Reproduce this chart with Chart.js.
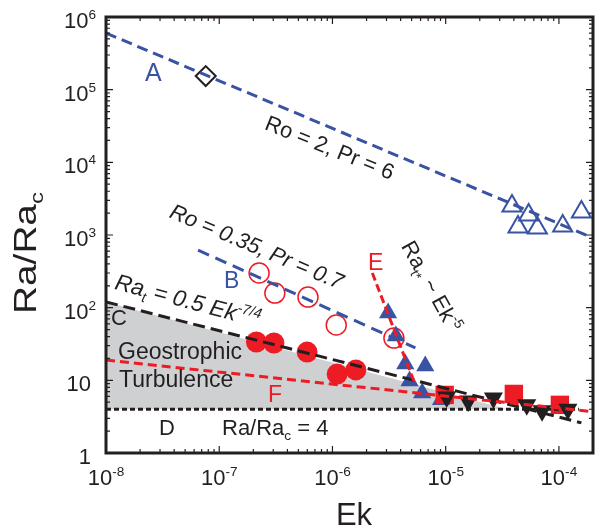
<!DOCTYPE html>
<html>
<head>
<meta charset="utf-8">
<script src="https://cdn.jsdelivr.net/npm/chart.js@4.4.1/dist/chart.umd.min.js"></script>
<style>
  html, body { margin: 0; padding: 0; background: #fff; }
  #wrap { width: 606px; height: 527px; }
</style>
</head>
<body>
<div id="wrap"><canvas id="chart"></canvas></div>
<script>
// axis ticks
const xTicks = [1e-8, 1e-7, 1e-6, 1e-5, 1e-4];
const xTickLabels = [["10", "-8"], ["10", "-7"], ["10", "-6"], ["10", "-5"], ["10", "-4"]];
const yTicks = [1, 10, 100, 1e3, 1e4, 1e5, 1e6];
const yTickLabels = [["1", ""], ["10", ""], ["10", "2"], ["10", "3"], ["10", "4"], ["10", "5"], ["10", "6"]];

// symbols (Ek, Ra/Ra_c)
const diamondEk = [7.6e-8];
const diamondRa = [1.54e5];
const openTriEk = [3.85e-5, 5.4e-5, 4.35e-5, 6.45e-5, 1.08e-4, 1.58e-4];
const openTriRa = [2500, 1880, 1290, 1250, 1330, 2070];
const openCircEk = [2.25e-7, 3.1e-7, 6.08e-7, 1.08e-6, 3.49e-6];
const openCircRa = [300, 159, 140, 57.7, 38.2];
const fullCircEk = [2.13e-7, 3.04e-7, 5.97e-7, 1.1e-6, 1.61e-6];
const fullCircRa = [33.7, 32.6, 24.5, 12.2, 13.9];
const blueTriEk = [3.1e-6, 3.63e-6, 4.4e-6, 6.6e-6, 4.8e-6, 6.2e-6, 9.1e-6];
const blueTriRa = [84.5, 40.7, 16.8, 15.7, 9.8, 6.7, 5.4];
const squareEk = [9.8e-6, 4.0e-5, 1.02e-4];
const squareRa = [6.3, 6.5, 4.6];
const downTriEk = [1.02e-5, 1.58e-5, 2.64e-5, 5.2e-5, 7.1e-5, 1.2e-4];
const downTriRa = [5.9, 5.2, 5.7, 4.6, 3.8, 4.0];

// guide lines (end points)
const lineAEk = [1e-8, 2e-4], lineARa = [6.0e5, 910];
const lineBEk = [6.5e-8, 5.4e-6], lineBRa = [620, 28];
const lineCEk = [1e-8, 1.58e-4], lineCRa = [120, 2.6];
const lineDEk = [1e-8, 1.5e-4], lineDRa = [4, 4];
const lineEEk = [2.25e-6, 5.4e-6], lineERa = [300, 8.6];
const lineFEk = [1e-8, 2e-4], lineFRa = [19, 3.7];
const shadeEk = [1e-8, 3.5e-5], shadeRa = [120, 4];

const blue = "#3953a4";
const red = "#ed1c24";
const ink = "#231f20";
const shade = "#cfd0d2";
const FONT = '"Liberation Sans", Arial, sans-serif';

const pts = (xs, ys) => xs.map((x, i) => ({ x, y: ys[i] }));

function guide(data, color, dash, width) {
  return {
    data, showLine: true, borderColor: color, borderWidth: width,
    borderDash: dash, pointRadius: 0, fill: false
  };
}

function marks(data, style, radius, fill, border, bw, rotation = 0) {
  return {
    data, showLine: false, pointStyle: style, pointRadius: radius,
    pointBackgroundColor: fill, pointBorderColor: border,
    pointBorderWidth: bw, pointRotation: rotation
  };
}

// text with sub/superscripts: parts = [[text, 0|1|-1], ...]
function richText(ctx, parts, o) {
  const small = o.size * 0.62;
  const fontFor = k => (o.italic ? "italic " : "") + (k ? small : o.size) + "px " + FONT;
  let w = 0;
  const widths = parts.map(([t, k]) => {
    ctx.font = fontFor(k);
    const m = ctx.measureText(t).width;
    w += m;
    return m;
  });
  ctx.save();
  ctx.translate(o.x, o.y);
  ctx.rotate((o.angle || 0) * Math.PI / 180);
  if (o.sx) ctx.scale(o.sx, 1);
  ctx.fillStyle = o.color || ink;
  ctx.textAlign = "left";
  ctx.textBaseline = "alphabetic";
  let cx = o.align === "left" ? 0 : o.align === "right" ? -w : -w / 2;
  const by = o.middle ? o.size * 0.36 : 0;
  parts.forEach(([t, k], i) => {
    ctx.font = fontFor(k);
    const dy = k === 1 ? -o.size * 0.4 : k === -1 ? o.size * 0.24 : 0;
    ctx.fillText(t, cx, by + dy);
    cx += widths[i];
  });
  ctx.restore();
}

const frame = {
  id: "frame",
  afterDatasetsDraw(chart) {
    const { ctx, chartArea: a, scales: { x, y } } = chart;
    ctx.save();
    ctx.strokeStyle = ink;
    ctx.lineWidth = 1.2;
    ctx.beginPath();
    for (let e = -8; e <= -4; e++) {
      for (let m = 1; m < 10; m++) {
        const v = m * Math.pow(10, e);
        if (v > x.max) continue;
        const px = x.getPixelForValue(v), len = m === 1 ? 7 : 4;
        ctx.moveTo(px, a.bottom); ctx.lineTo(px, a.bottom - len);
        ctx.moveTo(px, a.top); ctx.lineTo(px, a.top + len);
      }
    }
    for (let e = 0; e <= 5; e++) {
      for (let m = 1; m < 10; m++) {
        const py = y.getPixelForValue(m * Math.pow(10, e)), len = m === 1 ? 7 : 4;
        ctx.moveTo(a.left, py); ctx.lineTo(a.left + len, py);
        ctx.moveTo(a.right, py); ctx.lineTo(a.right - len, py);
      }
    }
    ctx.stroke();
    ctx.lineWidth = 3;
    ctx.strokeRect(a.left, a.top, a.right - a.left, a.bottom - a.top);
    ctx.restore();

    // tick labels
    xTicks.forEach((v, i) => {
      const [b, s] = xTickLabels[i];
      richText(ctx, [[b, 0], [s, 1]], { x: x.getPixelForValue(v), y: 485, size: 22 });
    });
    yTicks.forEach((v, i) => {
      const [b, s] = yTickLabels[i];
      richText(ctx, s ? [[b, 0], [s, 1]] : [[b, 0]], {
        x: s ? 96 : 91, y: y.getPixelForValue(v) + 3, size: 22, align: "right", middle: true
      });
    });

    // axis titles
    richText(ctx, [["Ek", 0]], { x: 354, y: 525, size: 31 });
    richText(ctx, [["Ra/Ra", 0], ["c", -1]], { x: 36, y: 253, size: 31, angle: -90, sx: 1.25 });

    // annotations
    richText(ctx, [["A", 0]], { x: 145, y: 81, size: 25, color: blue, align: "left" });
    richText(ctx, [["B", 0]], { x: 224, y: 288, size: 23, color: blue, align: "left" });
    richText(ctx, [["C", 0]], { x: 111, y: 325, size: 22, align: "left" });
    richText(ctx, [["D", 0]], { x: 159, y: 435, size: 22, align: "left" });
    richText(ctx, [["E", 0]], { x: 368, y: 270, size: 23, color: red, align: "left" });
    richText(ctx, [["F", 0]], { x: 268, y: 402, size: 23, color: red, align: "left" });
    richText(ctx, [["Geostrophic", 0]], { x: 118, y: 359, size: 23, align: "left" });
    richText(ctx, [["Turbulence", 0]], { x: 119, y: 387, size: 23, align: "left" });
    richText(ctx, [["Ra/Ra", 0], ["c", -1], [" = 4", 0]], { x: 222, y: 435, size: 22, align: "left" });
    richText(ctx, [["Ro = 2, Pr = 6", 0]], { x: 330, y: 147, size: 22, angle: 22, middle: true });
    richText(ctx, [["Ro = 0.35, Pr = 0.7", 0]], { x: 257, y: 246, size: 22, angle: 23, middle: true, italic: true });
    richText(ctx, [["Ra", 0], ["t", -1], [" = 0.5 Ek", 0], ["-7/4", 1]], { x: 188, y: 300, size: 23, angle: 15, middle: true, italic: true });
    richText(ctx, [["Ra", 0], ["t*", -1], [" ~ Ek", 0], ["-5", 1]], { x: 432, y: 286, size: 22, angle: 61, middle: true });
  }
};

new Chart(document.getElementById("chart"), {
  type: "scatter",
  data: {
    datasets: [
      guide(pts(lineEEk, lineERa), red, [8, 4], 3),
      guide(pts(lineFEk, lineFRa), red, [9, 5], 3),
      guide(pts(lineCEk, lineCRa), ink, [12, 6], 3),
      guide(pts(lineDEk, lineDRa), ink, [5, 3], 3),
      guide(pts(lineAEk, lineARa), blue, [11, 6], 3),
      guide(pts(lineBEk, lineBRa), blue, [12, 7], 3),
      marks(pts(downTriEk, downTriRa), "triangle", 11, ink, ink, 0, 180),
      marks(pts(squareEk, squareRa), "rect", 13, red, red, 0),
      marks(pts(blueTriEk, blueTriRa), "triangle", 10.5, blue, blue, 0),
      marks(pts(openCircEk, openCircRa), "circle", 10, "rgba(0,0,0,0)", red, 1.5),
      marks(pts(fullCircEk, fullCircRa), "circle", 10.5, red, red, 0),
      marks(pts(openTriEk, openTriRa), "triangle", 11, "rgba(0,0,0,0)", blue, 2),
      marks(pts(diamondEk, diamondRa), "rectRot", 10, "rgba(0,0,0,0)", ink, 2),
      {
        data: pts(shadeEk, shadeRa), showLine: true, borderWidth: 0,
        borderColor: shade, backgroundColor: shade, pointRadius: 0,
        fill: { value: 4 }
      }
    ]
  },
  options: {
    responsive: true,
    maintainAspectRatio: false,
    animation: false,
    events: [],
    layout: { padding: { left: 106, right: 1, top: 17, bottom: 74 } },
    plugins: { legend: { display: false }, tooltip: { enabled: false } },
    scales: {
      x: { type: "logarithmic", min: 1e-8, max: 2e-4, display: false },
      y: { type: "logarithmic", min: 1, max: 1e6, display: false }
    }
  },
  plugins: [frame]
});
</script>
</body>
</html>
